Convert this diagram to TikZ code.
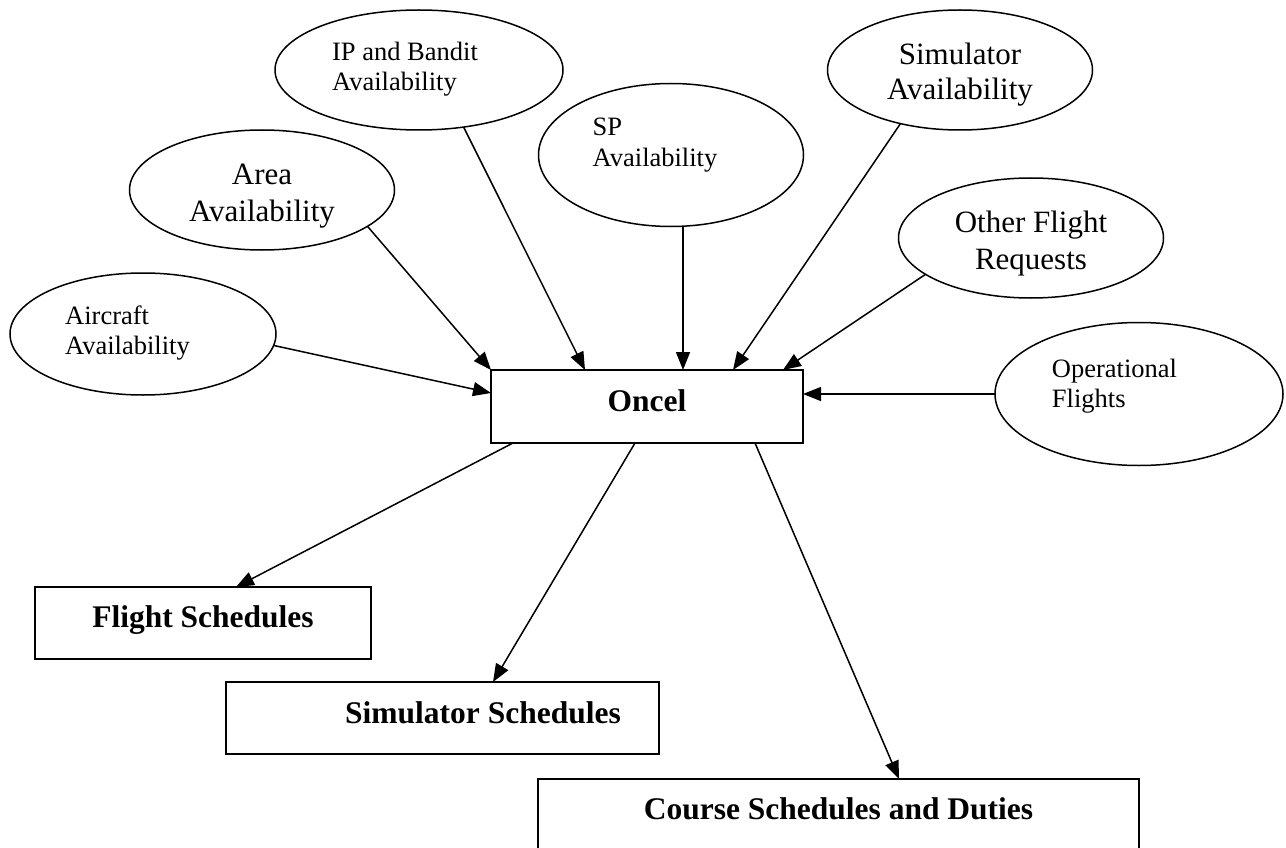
\documentclass[tikz,border=0pt]{standalone}
\usepackage{fontspec}
\setmainfont{Liberation Serif}
\usetikzlibrary{shapes.geometric,arrows.meta,calc}
\newcommand\FBig{\fontsize{31}{36}\selectfont}
\newcommand\FSmall{\fontsize{26.5}{30}\selectfont}
\newcommand\FBold{\fontsize{31.5}{36}\selectfont\bfseries}
\newcommand\LTwo[3]{\vtop{\baselineskip=#1\hbox{#2}\hbox{#3}}}
\newcommand\CTwo[3]{\vtop{\baselineskip=#1\halign{\hfil##\hfil\cr#2\cr#3\cr}}}
\tikzset{
  oval/.style={ellipse, draw, line width=1.5pt, inner sep=0pt, outer sep=0pt},
  box/.style={rectangle, draw, line width=1.8pt, inner sep=0pt, outer sep=0pt, font=\FBold},
  arr/.style={line width=1.5pt, -{Triangle[length=18pt,width=14pt]}},
}
\begin{document}
\begin{tikzpicture}[x=1pt,y=-1pt]
\path[use as bounding box, fill=white] (0,0) rectangle (1286,848);
\clip (0,0) rectangle (1286,848);
% input ellipses
\node[oval, minimum width=288pt, minimum height=120pt, font=\FSmall, text height=20pt, text depth=38pt] (ip) at (419,70) {\LTwo{29.5pt}{IP and Bandit}{Availability}\hspace*{28pt}};
\node[oval, minimum width=265pt, minimum height=120pt, font=\FBig, text height=22pt, text depth=32pt] (area) at (262,190) {\CTwo{37pt}{Area}{Availability}};
\node[oval, minimum width=266pt, minimum height=122pt, font=\FSmall, text height=20pt, text depth=40pt] (ac) at (143,334) {\LTwo{30pt}{Aircraft}{Availability}\hspace*{31pt}};
\node[oval, minimum width=265pt, minimum height=143pt, font=\FSmall, text height=20pt, text depth=58pt] (sp) at (671,155) {\LTwo{31pt}{SP}{Availability}\hspace*{32pt}};
\node[oval, minimum width=265pt, minimum height=120pt, font=\FBig, text height=22pt, text depth=32pt] (sim) at (960,70) {\CTwo{35pt}{Simulator}{Availability}};
\node[oval, minimum width=265pt, minimum height=120pt, font=\FBig, text height=22pt, text depth=32pt] (ofr) at (1031,238) {\CTwo{36pt}{Other Flight}{Requests}};
\node[oval, minimum width=288pt, minimum height=143pt, font=\FSmall, text height=20pt, text depth=54pt] (op) at (1139,394) {\LTwo{30pt}{Operational}{Flights}\hspace*{49pt}};
% central box
\node[box, minimum width=312pt, minimum height=73pt, text height=22pt, text depth=13pt] (oncel) at (647,406.5) {Oncel};
% output boxes
\node[box, minimum width=336pt, minimum height=72pt, text height=22pt, text depth=14pt] (fs) at (203,623) {Flight Schedules};
\node[box, minimum width=433pt, minimum height=72pt, text height=22pt, text depth=12pt] (ss) at (442.5,718) {\hspace*{81pt}Simulator Schedules};
\node[box, minimum width=601pt, minimum height=100pt, text height=20pt, text depth=40pt] (cs) at (838.5,829) {Course Schedules and Duties};
% arrow end points on the central box
\coordinate (spt) at ($(oncel.north west)+(192,0)$);
% input connectors
\draw[arr] (ac.-5.6) -- ($(oncel.north west)+(0,23)$);
\draw[arr] (area.-19) -- (oncel.north west);
\draw[arr] (ip.-52) -- ($(oncel.north west)+(94,0)$);
\draw[arr] (sp.south -| spt) -- (spt);
\draw[arr] (sim.-138) -- ($(oncel.north west)+(242,0)$);
\draw[arr] (ofr.-161) -- ($(oncel.north west)+(292,0)$);
\draw[arr] (op.west) -- (op.west -| oncel.east);
% output connectors
\draw[arr] ($(oncel.south west)+(22,0)$) -- ($(fs.north west)+(201,0)$);
\draw[arr] ($(oncel.south west)+(144,0)$) -- ($(ss.north west)+(267,0)$);
\draw[arr] ($(oncel.south west)+(264,0)$) -- ($(cs.north west)+(361,0)$);
\end{tikzpicture}
\end{document}
